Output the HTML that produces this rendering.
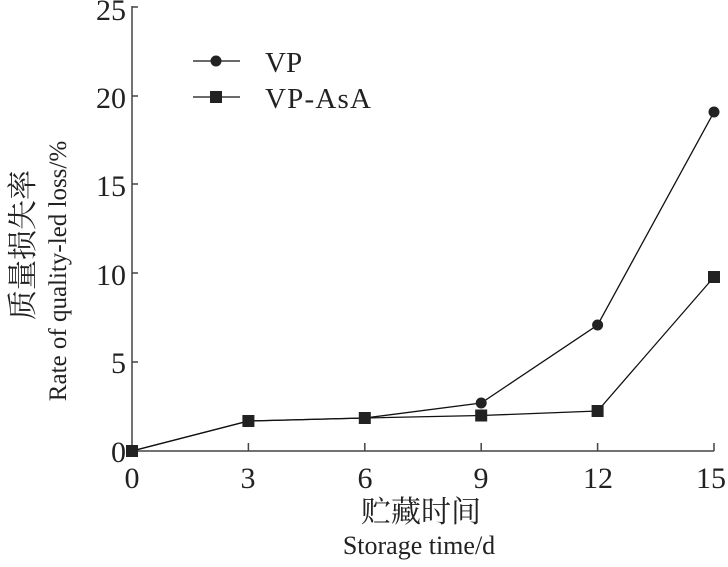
<!DOCTYPE html>
<html><head><meta charset="utf-8"><style>
body{margin:0;background:#fff}
svg text{font-family:"Liberation Serif","Noto Serif CJK SC",serif;fill:#222}
</style></head><body>
<svg width="728" height="562" viewBox="0 0 728 562" xmlns="http://www.w3.org/2000/svg">
<g stroke="#444" stroke-width="1.5" fill="none">
<path d="M132 6 V451 H714"/>
<path d="M132 7 h6 M132 96 h6 M132 184 h6 M132 273 h6 M132 362 h6"/>
<path d="M248.4 451 v-8 M364.8 451 v-8 M481.2 451 v-8 M597.6 451 v-8 M714 451 v-8"/>
</g>
<g font-size="30" text-anchor="end">
<text x="126" y="20">25</text><text x="126" y="108">20</text><text x="126" y="196">15</text><text x="126" y="285">10</text><text x="126" y="373">5</text><text x="126" y="462">0</text>
</g>
<g font-size="30" text-anchor="middle">
<text x="132" y="488">0</text><text x="248" y="488">3</text><text x="365" y="488">6</text><text x="481" y="488">9</text><text x="598" y="488">12</text><text x="711" y="488">15</text>
</g>
<text x="421" y="522" font-size="30" text-anchor="middle">贮藏时间</text>
<text x="419" y="554" font-size="26" text-anchor="middle">Storage time/d</text>
<text transform="translate(33,245) rotate(-90)" font-size="30" text-anchor="middle">质量损失率</text>
<text transform="translate(66,271) rotate(-90)" font-size="25" text-anchor="middle">Rate of quality-led loss/%</text>
<g stroke="#111" stroke-width="1.3" fill="none">
<polyline points="132,451 248.4,421 364.8,418 481.2,403 597.6,325 714,112"/>
<polyline points="132,451 248.4,421 364.8,418 481.2,415.5 597.6,411 714,277"/>
<path d="M193 61 H240 M193 97 H240"/>
</g>
<g fill="#222">
<circle cx="481.2" cy="403" r="5.5"/><circle cx="597.6" cy="325" r="5.5"/><circle cx="714" cy="112" r="5.5"/>
<circle cx="216" cy="61" r="5.5"/>
<rect x="126" y="445" width="12" height="12"/><rect x="242.4" y="415" width="12" height="12"/><rect x="358.8" y="412" width="12" height="12"/><rect x="475.2" y="409.5" width="12" height="12"/><rect x="591.6" y="405" width="12" height="12"/><rect x="708" y="271" width="12" height="12"/>
<rect x="210" y="91" width="12" height="12"/>
</g>
<text x="265" y="72" font-size="29">VP</text>
<text x="265" y="108" font-size="29" textLength="106">VP-AsA</text>
</svg>
</body></html>
